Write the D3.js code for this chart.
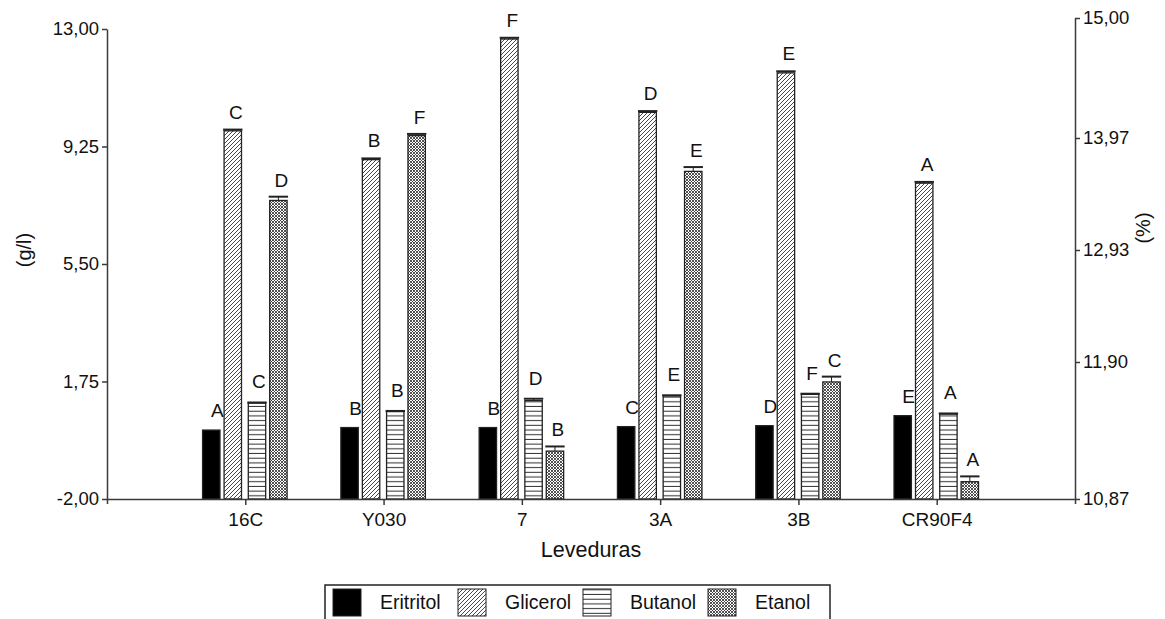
<!DOCTYPE html>
<html>
<head>
<meta charset="utf-8">
<script src="https://cdn.jsdelivr.net/npm/d3@7"></script>
<style>
  body { margin: 0; background: #fff; }
  svg text { font-family: Arial, "Liberation Sans", sans-serif; fill: #111; }
</style>
</head>
<body>
<svg id="chart" width="1165" height="619"></svg>
<script>
// Yeast strains (x axis)
const categories = ["16C", "Y030", "7", "3A", "3B", "CR90F4"];
const seriesNames = ["Eritritol", "Glicerol", "Butanol", "Etanol"];

// Concentrations in g/l (left axis)
const eritritol = [0.20, 0.28, 0.28, 0.31, 0.34, 0.66];
const eritritolErr = [0, 0, 0, 0, 0, 0];
const eritritolLetters = ["A", "B", "B", "C", "D", "E"];

const glicerol = [9.75, 8.83, 12.68, 10.34, 11.60, 8.08];
const glicerolErr = [0.04, 0.04, 0.04, 0.04, 0.05, 0.04];
const glicerolLetters = ["C", "B", "F", "D", "E", "A"];

const butanol = [1.06, 0.79, 1.14, 1.29, 1.34, 0.71];
const butanolErr = [0.02, 0.02, 0.06, 0.02, 0.02, 0.02];
const butanolLetters = ["C", "B", "D", "E", "F", "A"];

// Ethanol in % (right axis)
const etanol = [13.39, 13.99, 11.23, 13.66, 11.75, 11.00];
const etanolErr = [0.035, 0.015, 0.035, 0.04, 0.04, 0.04];
const etanolLetters = ["D", "F", "B", "E", "C", "A"];

const leftTicks = [-2, 1.75, 5.5, 9.25, 13];
const rightTicks = [10.87, 11.90, 12.93, 13.97, 15.00];

const svg = d3.select("#chart");
// two decimals, comma separator, plain hyphen for negatives
const fmt = v => d3.format(".2f")(v).replace(".", ",").replace("\u2212", "-");

// Plot frame
const x0 = 107, x1 = 1075, yBase = 499;

const x = d3.scalePoint().domain(categories).range([x0, x1]).padding(1);
const yLeft = d3.scaleLinear().domain([-2, 13]).range([yBase, 29]);
const yRight = d3.scaleLinear().domain(rightTicks).range([yBase, 362, 250, 138, 18]);

// Fill patterns
const defs = svg.append("defs");
const diag = defs.append("pattern").attr("id", "pDiag")
  .attr("patternUnits", "userSpaceOnUse").attr("width", 4).attr("height", 4);
diag.append("rect").attr("width", 4).attr("height", 4).attr("fill", "#fff");
diag.append("path").attr("d", "M-1,1 l2,-2 M0,4 l4,-4 M3,5 l2,-2")
  .attr("stroke", "#333").attr("stroke-width", 0.9);

const horiz = defs.append("pattern").attr("id", "pHoriz")
  .attr("patternUnits", "userSpaceOnUse").attr("width", 6).attr("height", 4.7);
horiz.append("rect").attr("width", 6).attr("height", 4.7).attr("fill", "#fff");
horiz.append("path").attr("d", "M0,2.3 H6").attr("stroke", "#333").attr("stroke-width", 1);

const cross = defs.append("pattern").attr("id", "pCross")
  .attr("patternUnits", "userSpaceOnUse").attr("width", 3).attr("height", 3);
cross.append("rect").attr("width", 3).attr("height", 3).attr("fill", "#fff");
cross.append("path").attr("d", "M0,0 L3,3 M3,0 L0,3")
  .attr("stroke", "#333").attr("stroke-width", 0.85);

const series = [
  { name: "Eritritol", vals: eritritol, err: eritritolErr, letters: eritritolLetters, y: yLeft, fill: "#000", dx: -42.7, ldx: 6, gap: 13 },
  { name: "Glicerol", vals: glicerol, err: glicerolErr, letters: glicerolLetters, y: yLeft, fill: "url(#pDiag)", dx: -21.2, ldx: 3, gap: 11 },
  { name: "Butanol", vals: butanol, err: butanolErr, letters: butanolLetters, y: yLeft, fill: "url(#pHoriz)", dx: 3, ldx: 2, gap: 14 },
  { name: "Etanol", vals: etanol, err: etanolErr, letters: etanolLetters, y: yRight, fill: "url(#pCross)", dx: 24.4, ldx: 3, gap: 10 }
];
const barW = 17.4;

series.forEach(s => {
  const g = svg.append("g").attr("class", "series-" + s.name);
  const rows = categories.map((c, i) => ({ c, v: s.vals[i], e: s.err[i], l: s.letters[i] }));

  g.selectAll("rect").data(rows).join("rect")
    .attr("x", d => x(d.c) + s.dx)
    .attr("y", d => s.y(d.v))
    .attr("width", barW)
    .attr("height", d => yBase - s.y(d.v))
    .attr("fill", s.fill)
    .attr("stroke", "#222").attr("stroke-width", 1.3);

  // error bars (upper half)
  const eb = g.selectAll("g.err").data(rows.filter(d => d.e > 0)).join("g").attr("class", "err");
  eb.append("line")
    .attr("x1", d => x(d.c) + s.dx + barW / 2).attr("x2", d => x(d.c) + s.dx + barW / 2)
    .attr("y1", d => s.y(d.v)).attr("y2", d => s.y(d.v + d.e))
    .attr("stroke", "#222").attr("stroke-width", 1);
  eb.append("line")
    .attr("x1", d => x(d.c) + s.dx - 1).attr("x2", d => x(d.c) + s.dx + barW + 1)
    .attr("y1", d => s.y(d.v + d.e)).attr("y2", d => s.y(d.v + d.e))
    .attr("stroke", "#222").attr("stroke-width", 2);

  // significance letters
  g.selectAll("text").data(rows).join("text")
    .attr("x", d => x(d.c) + s.dx + barW / 2 + s.ldx)
    .attr("y", d => s.y(d.v + d.e) - s.gap)
    .attr("text-anchor", "middle")
    .attr("font-size", 19)
    .text(d => d.l);
});

// Axes
const axisStyle = g => {
  g.selectAll("path, line").attr("stroke", "#3a3a3a").attr("stroke-width", 1.5);
  g.selectAll("text").attr("font-size", 18.5).attr("fill", "#111");
};

svg.append("g").attr("transform", `translate(0,${yBase})`)
  .call(d3.axisBottom(x).tickSize(6).tickSizeOuter(5).tickPadding(8))
  .call(axisStyle)
  .call(g => g.selectAll("text").attr("font-size", 19));

svg.append("g").attr("transform", `translate(${x0},0)`)
  .call(d3.axisLeft(yLeft).tickValues(leftTicks).tickFormat(fmt).tickSize(5).tickSizeOuter(0).tickPadding(3))
  .call(axisStyle);

svg.append("g").attr("transform", `translate(${x1},0)`)
  .call(d3.axisRight(yRight).tickValues(rightTicks).tickFormat(fmt).tickSize(5).tickSizeOuter(0).tickPadding(3))
  .call(axisStyle);

// Axis titles
svg.append("text").attr("x", (x0 + x1) / 2).attr("y", 557)
  .attr("text-anchor", "middle").attr("font-size", 21.5).text("Leveduras");
svg.append("text").attr("transform", "translate(31,250) rotate(-90)")
  .attr("text-anchor", "middle").attr("font-size", 20).text("(g/l)");
svg.append("text").attr("transform", "translate(1150,228) rotate(-90)")
  .attr("text-anchor", "middle").attr("font-size", 20).text("(%)");

// Legend
const legend = svg.append("g");
legend.append("rect").attr("x", 325).attr("y", 585).attr("width", 505).attr("height", 50)
  .attr("fill", "#fff").attr("stroke", "#222").attr("stroke-width", 1.5);
const legX = [333, 458, 583, 708];
series.forEach((s, i) => {
  legend.append("rect").attr("x", legX[i]).attr("y", 589).attr("width", 28).attr("height", 27)
    .attr("fill", s.fill).attr("stroke", "#222").attr("stroke-width", 1);
  legend.append("text").attr("x", legX[i] + 47).attr("y", 609).attr("font-size", 19.5).text(seriesNames[i]);
});
</script>
</body>
</html>
